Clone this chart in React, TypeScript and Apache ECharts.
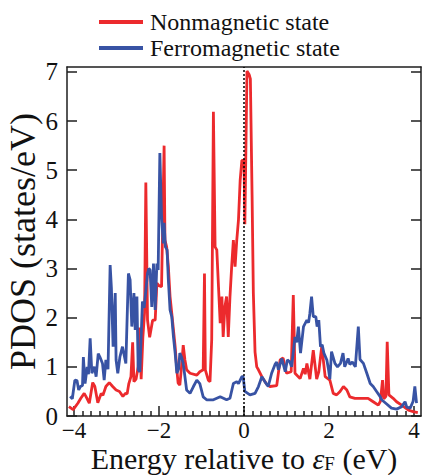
import React, { useEffect, useRef } from "react";
import * as echarts from "echarts";

// Nonmagnetic state PDOS: [energy (eV), states/eV]
const nonmagnetic: [number, number][] = [
  [-4.12, 0.19], [-4.02, 0.13], [-3.91, 0.26], [-3.84, 0.36], [-3.76, 0.46], [-3.72, 0.4],
  [-3.64, 0.26], [-3.56, 0.68], [-3.51, 0.6], [-3.44, 0.27], [-3.36, 0.46], [-3.32, 0.42],
  [-3.25, 0.6], [-3.17, 0.68], [-3.09, 0.6], [-3.01, 0.53], [-2.93, 0.5], [-2.85, 0.4],
  [-2.79, 0.46], [-2.75, 0.45], [-2.71, 0.66], [-2.66, 0.8], [-2.62, 1.5], [-2.59, 0.7],
  [-2.54, 0.75], [-2.49, 1.0], [-2.46, 1.8], [-2.42, 0.75], [-2.38, 1.6], [-2.34, 2.1],
  [-2.31, 4.75], [-2.27, 1.95], [-2.22, 1.6], [-2.15, 1.95], [-2.09, 1.95], [-2.05, 2.7],
  [-2.0, 2.65], [-1.94, 2.63], [-1.88, 5.5], [-1.86, 3.58], [-1.82, 3.44], [-1.78, 3.04],
  [-1.74, 2.43], [-1.7, 2.09], [-1.66, 1.75], [-1.62, 1.41], [-1.58, 0.94], [-1.55, 0.67],
  [-1.51, 0.63], [-1.47, 1.0], [-1.43, 1.44], [-1.39, 1.14], [-1.35, 0.94], [-1.27, 0.87],
  [-1.11, 0.83], [-1.04, 0.9], [-0.96, 0.94], [-0.93, 2.9], [-0.91, 0.94], [-0.84, 0.73],
  [-0.8, 0.7], [-0.76, 1.55], [-0.72, 6.19], [-0.68, 3.44], [-0.64, 3.38], [-0.6, 2.63],
  [-0.56, 1.89], [-0.52, 2.43], [-0.49, 1.61], [-0.45, 2.22], [-0.41, 2.43], [-0.37, 1.61],
  [-0.33, 2.43], [-0.29, 3.04], [-0.25, 3.58], [-0.21, 3.04], [-0.17, 3.58], [-0.13, 3.99],
  [-0.09, 4.8], [-0.05, 5.2], [0.0, 5.2], [0.02, 3.9], [0.07, 7.02], [0.12, 6.95],
  [0.15, 6.86], [0.19, 4.5], [0.22, 2.5], [0.26, 1.3], [0.3, 1.0], [0.34, 0.94],
  [0.42, 0.8], [0.53, 0.65], [0.61, 0.6], [0.77, 0.62], [0.85, 1.14], [0.92, 1.18],
  [1.0, 0.87], [1.11, 0.9], [1.16, 2.46], [1.2, 0.87], [1.32, 0.76], [1.4, 0.97],
  [1.44, 0.85], [1.48, 1.07], [1.55, 0.75], [1.63, 1.34], [1.71, 0.75], [1.76, 0.9],
  [1.83, 1.42], [1.91, 0.8], [2.02, 0.73], [2.1, 0.46], [2.18, 0.43], [2.26, 0.5],
  [2.34, 0.6], [2.42, 0.53], [2.49, 0.39], [2.61, 0.36], [2.81, 0.36], [2.92, 0.36],
  [3.04, 0.29], [3.16, 0.22], [3.21, 0.3], [3.26, 0.73], [3.29, 0.35], [3.34, 0.4],
  [3.37, 1.51], [3.41, 0.43], [3.51, 0.36], [3.59, 0.29], [3.71, 0.22], [3.87, 0.12],
  [3.98, 0.09], [4.09, 0.07],
];

// Ferromagnetic state PDOS: [energy (eV), states/eV]
const ferromagnetic: [number, number][] = [
  [-4.09, 0.4], [-4.04, 0.35], [-3.98, 0.73], [-3.93, 0.72], [-3.89, 0.53], [-3.85, 0.6],
  [-3.8, 0.62], [-3.78, 1.2], [-3.74, 0.66], [-3.69, 1.0], [-3.66, 0.85], [-3.62, 1.58],
  [-3.58, 0.87], [-3.52, 1.0], [-3.48, 0.8], [-3.43, 1.27], [-3.39, 1.2], [-3.33, 1.07],
  [-3.29, 0.73], [-3.25, 1.14], [-3.2, 0.95], [-3.15, 3.07], [-3.12, 2.6], [-3.08, 1.41],
  [-3.03, 2.5], [-3.01, 1.14], [-2.97, 0.87], [-2.92, 1.2], [-2.86, 1.41], [-2.78, 1.07],
  [-2.72, 2.9], [-2.68, 2.77], [-2.64, 1.82], [-2.59, 2.5], [-2.56, 1.75], [-2.52, 2.43],
  [-2.49, 0.94], [-2.45, 0.9], [-2.39, 2.33], [-2.35, 2.2], [-2.27, 2.9], [-2.24, 3.0],
  [-2.21, 2.97], [-2.17, 2.22], [-2.13, 3.1], [-2.09, 2.16], [-2.05, 3.1], [-2.02, 2.97],
  [-1.98, 5.35], [-1.94, 4.06], [-1.9, 3.51], [-1.88, 3.93], [-1.85, 3.44], [-1.81, 3.38],
  [-1.78, 2.77], [-1.74, 2.16], [-1.7, 2.02], [-1.66, 1.61], [-1.62, 1.28], [-1.58, 0.87],
  [-1.54, 0.95], [-1.51, 1.28], [-1.47, 1.2], [-1.43, 1.07], [-1.39, 0.8], [-1.35, 0.53],
  [-1.27, 0.46], [-1.19, 0.6], [-1.11, 0.73], [-1.04, 0.66], [-0.96, 0.39], [-0.88, 0.33],
  [-0.72, 0.33], [-0.56, 0.39], [-0.41, 0.33], [-0.33, 0.36], [-0.25, 0.66], [-0.17, 0.7],
  [-0.13, 0.66], [-0.05, 0.8], [-0.02, 0.8], [0.02, 0.5], [0.14, 0.43], [0.26, 0.46],
  [0.34, 0.6], [0.42, 0.8], [0.49, 0.7], [0.57, 0.6], [0.65, 0.87], [0.73, 1.05],
  [0.77, 1.1], [0.81, 0.94], [0.89, 1.17], [0.97, 0.9], [1.02, 1.14], [1.08, 1.1],
  [1.12, 1.0], [1.2, 1.61], [1.24, 1.5], [1.28, 1.82], [1.33, 1.28], [1.4, 1.82],
  [1.48, 1.95], [1.52, 1.9], [1.55, 2.09], [1.59, 2.43], [1.63, 2.02], [1.69, 2.02],
  [1.72, 1.82], [1.76, 1.95], [1.8, 1.41], [1.84, 1.45], [1.88, 1.28], [1.95, 1.14],
  [1.99, 0.94], [2.02, 0.75], [2.06, 1.31], [2.14, 1.07], [2.2, 1.0], [2.27, 1.07],
  [2.33, 1.28], [2.37, 1.0], [2.45, 1.17], [2.49, 1.05], [2.55, 1.1], [2.62, 1.0],
  [2.69, 1.82], [2.73, 1.15], [2.81, 1.07], [2.89, 0.87], [2.97, 0.66], [3.04, 0.6],
  [3.12, 0.5], [3.2, 0.4], [3.24, 0.33], [3.35, 0.25], [3.47, 0.16], [3.59, 0.14],
  [3.71, 0.19], [3.79, 0.29], [3.83, 0.18], [3.91, 0.16], [3.98, 0.3], [4.02, 0.6],
  [4.06, 0.26],
];

const seriesNames = ["Nonmagnetic state", "Ferromagnetic state"];
const xMajorTicks = [-4, -2, 0, 2, 4];
const yMajorTicks = [0, 1, 2, 3, 4, 5, 6, 7];
const xRange = [-4.165, 4.165];
const yRange = [0, 7.1];

const FONT = "'Liberation Serif', 'Times New Roman', serif";
const RED = "#ec2a2d";
const BLUE = "#3853a4";
const INK = "#1e1e1e";

function minorTicks(): number[] {
  const out: number[] = [];
  for (let i = -20; i <= 20; i++) {
    if (i % 10 !== 0) out.push(Math.round(i * 2) / 10);
  }
  return out;
}

export default function App() {
  const ref = useRef<HTMLDivElement>(null);
  useEffect(() => {
    if (!ref.current) return;
    const chart = echarts.init(ref.current, undefined, { renderer: "svg" });
    const gridRect = { left: 67, right: 2, top: 67, bottom: 59, containLabel: false, outerBoundsMode: "none" };
    const fmt = (v: number) => (v < 0 ? "\u2212" + Math.abs(v) : String(v));
    chart.setOption({
      animation: false,
      backgroundColor: "#fff",
      textStyle: { fontFamily: FONT },
      legend: {
        data: seriesNames,
        orient: "vertical",
        left: 94,
        top: 5,
        itemWidth: 44,
        itemHeight: 4,
        itemGap: 2,
        icon: "rect",
        textStyle: { fontFamily: FONT, fontSize: 24, color: "#111", padding: [0, 0, 0, 2] },
      },
      grid: [{ ...gridRect }, { ...gridRect }],
      xAxis: [
        {
          type: "value",
          gridIndex: 0,
          position: "bottom",
          min: xRange[0],
          max: xRange[1],
          axisLine: { show: true, onZero: false, lineStyle: { color: INK, width: 1.5 } },
          axisTick: { show: true, inside: true, length: 10, customValues: xMajorTicks, lineStyle: { color: INK, width: 1.5 } },
          axisLabel: { customValues: xMajorTicks, formatter: fmt, fontFamily: FONT, fontSize: 23, color: "#111", margin: 3, lineHeight: 23 },
          splitLine: { show: false },
          name: "{a|Energy relative to }{e|\u03b5}{s|F}{a| (eV)}",
          nameLocation: "middle",
          nameGap: 27,
          nameMoveOverlap: false,
          nameTextStyle: {
            rich: {
              a: { fontFamily: FONT, fontSize: 30, lineHeight: 30, color: "#111" },
              e: { fontFamily: FONT, fontSize: 30, lineHeight: 30, fontStyle: "italic", color: "#111" },
              s: { fontFamily: FONT, fontSize: 19, lineHeight: 19, color: "#111", verticalAlign: "bottom" },
            },
          },
        },
        {
          type: "value",
          gridIndex: 0,
          position: "top",
          min: xRange[0],
          max: xRange[1],
          axisLine: { show: true, onZero: false, lineStyle: { color: INK, width: 1.5 } },
          axisTick: { show: false },
          axisLabel: { show: false },
          splitLine: { show: false },
        },
        {
          type: "value",
          gridIndex: 1,
          position: "bottom",
          min: xRange[0],
          max: xRange[1],
          axisLine: { show: false },
          axisTick: { show: true, inside: true, length: 5, customValues: minorTicks(), lineStyle: { color: INK, width: 1.5 } },
          axisLabel: { show: false },
          splitLine: { show: false },
        },
      ],
      yAxis: [
        {
          type: "value",
          gridIndex: 0,
          position: "left",
          min: yRange[0],
          max: yRange[1],
          axisLine: { show: true, onZero: false, lineStyle: { color: INK, width: 1.5 } },
          axisTick: { show: true, inside: true, length: 10, customValues: yMajorTicks, lineStyle: { color: INK, width: 1.5 } },
          axisLabel: { customValues: yMajorTicks, fontFamily: FONT, fontSize: 25, color: "#111", margin: 9 },
          splitLine: { show: false },
          name: "PDOS (states/eV)",
          nameLocation: "middle",
          nameGap: 26,
          nameMoveOverlap: false,
          nameTextStyle: { fontFamily: FONT, fontSize: 36, color: "#111" },
        },
        {
          type: "value",
          gridIndex: 0,
          position: "right",
          min: yRange[0],
          max: yRange[1],
          axisLine: { show: true, onZero: false, lineStyle: { color: INK, width: 1.5 } },
          axisTick: { show: true, inside: true, length: 10, customValues: yMajorTicks, lineStyle: { color: INK, width: 1.5 } },
          axisLabel: { show: false },
          splitLine: { show: false },
        },
        {
          type: "value",
          gridIndex: 1,
          min: yRange[0],
          max: yRange[1],
          show: false,
        },
      ],
      series: [
        {
          name: seriesNames[0],
          type: "line",
          xAxisIndex: 0,
          yAxisIndex: 0,
          data: nonmagnetic,
          showSymbol: false,
          symbol: "none",
          color: RED,
          lineStyle: { color: RED, width: 2.8 },
          clip: true,
        },
        {
          name: seriesNames[1],
          type: "line",
          xAxisIndex: 0,
          yAxisIndex: 0,
          data: ferromagnetic,
          showSymbol: false,
          symbol: "none",
          color: BLUE,
          lineStyle: { color: BLUE, width: 2.8 },
          clip: true,
          markLine: {
            silent: true,
            symbol: "none",
            label: { show: false },
            lineStyle: { color: "#000", type: [2, 2], width: 1.5 },
            data: [{ xAxis: 0 }],
          },
        },
      ],
    });
    return () => chart.dispose();
  }, []);
  return (
    <div
      ref={ref}
      style={{ position: "absolute", left: 0, top: 0, width: 423, height: 475 }}
    />
  );
}
